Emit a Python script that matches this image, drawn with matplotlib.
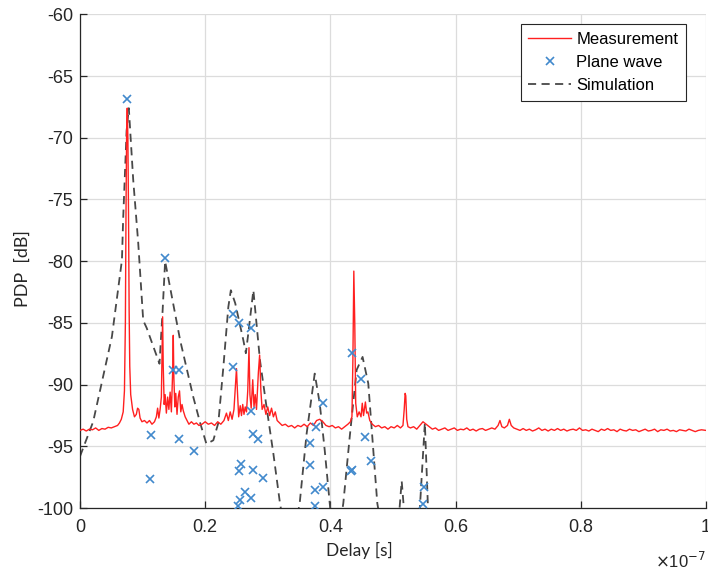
import numpy as np
import matplotlib
matplotlib.use('Agg')
import matplotlib.pyplot as plt

# delays in ns, levels in dB
meas_ns = [0.0, 0.5, 1.0, 1.5, 2.0, 2.5, 3.0, 3.5, 4.0, 4.5, 5.0, 5.5, 6.0,
           6.3, 6.6, 6.9, 7.1, 7.25, 7.35, 7.45, 7.55, 7.65, 7.75, 7.85, 7.95, 8.1, 8.4, 8.7,
           9.0, 9.2, 9.4, 9.6, 9.9, 10.3, 10.7, 11.1, 11.5, 11.9, 12.2, 12.4, 12.6, 12.8,
           13.0, 13.1, 13.2, 13.3, 13.45, 13.6, 13.8, 14.0, 14.2, 14.4, 14.6, 14.8, 14.9, 15.0,
           15.15, 15.3, 15.5, 15.7, 15.9, 16.1, 16.3, 16.5, 16.8, 17.1, 17.4, 17.8,
           18.2, 18.6, 19.0, 19.5, 20.0, 20.5, 21.0, 21.5, 22.0, 22.5, 23.0,
           23.4, 23.7, 24.0, 24.3, 24.6, 24.85, 25.0, 25.15, 25.35, 25.6, 25.8, 26.0, 26.2,
           26.4, 26.6, 26.8, 27.0, 27.15, 27.35, 27.6, 27.8, 28.0, 28.2, 28.5, 28.7, 28.9,
           29.1, 29.4, 29.7, 30.0, 30.3, 30.6, 30.9, 31.2, 31.5, 31.9, 32.3,
           32.8, 33.3, 33.8, 34.3, 34.8, 35.3, 35.8, 36.3, 36.8, 37.3, 37.8, 38.3, 38.8,
           39.3, 39.8, 40.3, 40.8, 41.3, 41.8, 42.3, 42.8, 43.2, 43.45, 43.6, 43.75, 43.9,
           44.05, 44.3, 44.6, 44.9, 45.1, 45.3, 45.6, 45.8, 46.0, 46.3, 46.7, 47.2, 47.7,
           48.2, 48.7, 49.2, 49.7, 50.2, 50.7, 51.2, 51.6, 51.8, 51.95, 52.05, 52.2, 52.4,
           52.8, 53.3, 53.8, 54.3, 54.8, 55.3, 55.8, 56.3, 56.8, 57.3, 57.8, 58.3, 58.8,
           59.3, 59.8, 60.3, 60.8, 61.3, 61.8, 62.3, 62.8, 63.3, 63.8, 64.3, 64.8, 65.3,
           65.8, 66.3, 66.8, 67.1, 67.4, 67.8, 68.3, 68.6, 68.9, 69.3, 69.8, 70.3, 70.8,
           71.3, 71.8, 72.3, 72.8, 73.3, 73.8, 74.3, 74.8, 75.3, 75.8, 76.3, 76.8, 77.3,
           77.8, 78.3, 78.8, 79.3, 79.8, 80.3, 80.8, 81.3, 81.8, 82.3, 82.8, 83.3, 83.8,
           84.3, 84.8, 85.3, 85.8, 86.3, 86.8, 87.3, 87.8, 88.3, 88.8, 89.3, 89.8, 90.3,
           90.8, 91.3, 91.8, 92.3, 92.8, 93.3, 93.8, 94.3, 94.8, 95.3, 95.8, 96.3, 96.8,
           97.3, 97.8, 98.3, 98.8, 99.3, 100.0]
meas_db = [-93.7, -93.6, -93.75, -93.6, -93.65, -93.5, -93.7, -93.55, -93.6, -93.45, -93.5, -93.4, -93.3,
           -93.1, -92.8, -92.2, -90.5, -85.0, -76.0, -69.5, -67.6, -70.0, -76.0, -84.0, -88.5, -90.8, -92.0, -92.6,
           -92.4, -91.9, -92.0, -92.7, -93.0, -92.9, -93.1, -92.9, -93.2, -93.0, -92.6, -91.9, -92.7, -92.0,
           -91.0, -88.0, -84.5, -88.5, -91.6, -90.8, -92.3, -91.0, -92.0, -90.6, -92.2, -89.0, -86.0, -89.5,
           -91.8, -90.7, -92.4, -91.0, -90.5, -92.2, -91.6, -92.1, -92.6, -92.9, -93.2, -93.0,
           -93.2, -93.1, -93.3, -93.2, -93.0, -93.2, -93.1, -93.3, -93.0, -93.2, -92.9,
           -92.3, -92.9, -92.2, -92.8, -92.0, -90.0, -88.7, -90.5, -92.6, -91.7, -92.5, -91.6, -92.4,
           -91.8, -92.2, -90.5, -87.0, -90.8, -91.9, -89.6, -91.8, -90.8, -92.0, -89.0, -87.6, -90.5,
           -92.0, -91.6, -92.4, -91.8, -92.5, -91.9, -92.6, -92.2, -92.9, -93.1, -93.3,
           -93.2, -93.4, -93.3, -93.5, -93.3, -93.4, -93.2, -93.4, -93.1, -93.3, -92.9, -92.8, -93.0,
           -93.3, -93.4, -93.3, -93.5, -93.4, -93.6, -93.4, -93.2, -93.0, -92.6, -88.0, -80.8, -85.0,
           -91.5, -92.6, -92.2, -92.6, -91.5, -92.5, -91.4, -92.3, -92.2, -92.9, -93.2, -93.4, -93.3,
           -93.5, -93.4, -93.6, -93.4, -93.5, -93.3, -93.5, -93.3, -92.0, -90.7, -90.9, -92.8, -93.4,
           -93.5, -93.4, -93.6, -93.3, -93.0, -93.2, -93.4, -93.6, -93.5, -93.7, -93.6, -93.5, -93.7,
           -93.6, -93.5, -93.7, -93.6, -93.65, -93.5, -93.7, -93.6, -93.75, -93.6, -93.55, -93.7, -93.6,
           -93.5, -93.6, -93.3, -92.9, -93.4, -93.5, -93.3, -92.8, -93.3, -93.5, -93.6, -93.7, -93.55,
           -93.7, -93.6, -93.75, -93.65, -93.5, -93.7, -93.6, -93.75, -93.6, -93.7, -93.55, -93.7, -93.6,
           -93.75, -93.65, -93.6, -93.7, -93.5, -93.7, -93.65, -93.75, -93.6, -93.7, -93.8, -93.6, -93.7,
           -93.55, -93.7, -93.65, -93.8, -93.6, -93.7, -93.75, -93.6, -93.7, -93.65, -93.8, -93.7, -93.6,
           -93.75, -93.7, -93.6, -93.8, -93.65, -93.7, -93.6, -93.75, -93.7, -93.8, -93.65, -93.7, -93.75,
           -93.6, -93.7, -93.8, -93.7, -93.65, -93.7]

pw_ns = [7.51, 13.58, 14.8, 15.86, 11.3, 15.87, 18.16, 11.18,
         24.4, 25.45, 27.26, 24.4, 27.26, 27.58, 28.49, 25.67, 25.45, 27.68, 29.18,
         26.36, 25.56, 27.26, 25.3,
         36.8, 36.8, 37.7, 38.77, 37.5, 38.87, 37.5,
         43.4, 44.89, 45.53, 46.43, 43.24, 43.5, 54.95, 54.73]
pw_db = [-66.9, -79.7, -88.8, -88.8, -94.1, -94.4, -95.4, -97.65,
         -84.24, -84.97, -85.37, -88.6, -92.15, -94.03, -94.36, -96.46, -96.98, -96.92, -97.55,
         -98.68, -99.3, -99.2, -99.8,
         -94.7, -96.5, -93.4, -91.52, -98.5, -98.3, -99.8,
         -87.47, -89.55, -94.2, -96.17, -96.98, -96.9, -98.3, -99.7]

sim_ns = [0.0, 2.1, 5.1, 6.7, 6.9, 7.45, 7.8, 8.5, 9.3, 10.1, 10.65, 12.7, 13.2, 13.6,
          16.0, 18.1, 19.2, 20.2, 21.3, 22.1, 22.9, 23.7, 24.1, 24.8, 26.1, 26.5, 26.9,
          27.7, 28.75, 29.8, 30.9, 31.95, 33.5, 35.1, 36.2, 37.5, 38.3, 39.1, 39.9, 40.8,
          42.07, 43.1, 44.2, 45.15, 46.06, 46.86, 47.5, 49.0, 50.9, 51.4, 51.9, 53.0,
          54.3, 55.1, 55.6, 57.0, 100.0]
sim_db = [-95.8, -93.0, -86.1, -79.9, -76.5, -69.4, -67.6, -73.4, -78.5, -84.8, -85.4, -88.3, -84.0, -80.0,
          -86.4, -91.0, -93.1, -94.8, -94.5, -93.1, -88.6, -83.7, -82.35, -83.4, -86.4, -87.45, -85.8,
          -82.35, -88.0, -91.8, -95.6, -99.6, -104.0, -99.6, -94.0, -89.1, -91.5, -95.3, -99.6, -104.0,
          -99.6, -94.2, -88.8, -87.75, -89.9, -95.3, -99.6, -104.0, -101.0, -97.8, -101.0, -104.0,
          -100.0, -93.1, -100.0, -110.0, -120.0]

plt.rcParams['font.family'] = ['Liberation Sans', 'DejaVu Sans']
plt.rcParams['axes.unicode_minus'] = False

fig = plt.figure(figsize=(7.08, 5.71), dpi=100)
ax = fig.add_axes([0.113, 0.110, 0.884, 0.865])

ax.plot(np.array(meas_ns) / 100, meas_db, color='#ff2020', lw=1.0, label='Measurement', zorder=3)
ax.plot(np.array(pw_ns) / 100, pw_db, ls='none', marker='x', ms=6, mew=1.2,
        color='#4189cc', label='Plane wave', zorder=4)
ax.plot(np.array(sim_ns) / 100, sim_db, color='#484848', lw=1.3, ls=(0, (4.5, 3)),
        label='Simulation', zorder=2)

ax.set_xlim(0, 1)
ax.set_ylim(-100, -60)
ax.set_xticks([0, 0.2, 0.4, 0.6, 0.8, 1])
ax.set_xticklabels(['0', '0.2', '0.4', '0.6', '0.8', '1'])
ax.set_yticks(np.arange(-100, -59, 5))
ax.set_yticklabels([str(v) for v in range(-100, -59, 5)])

ax.grid(True, color='#dcdcdc', lw=0.9)
ax.set_axisbelow(True)
for s in ['top', 'right']:
    ax.spines[s].set_visible(False)
for s in ['left', 'bottom']:
    ax.spines[s].set_color('#262626')
    ax.spines[s].set_linewidth(0.9)
ax.tick_params(axis='both', direction='in', length=5, width=0.9, color='#262626',
               labelcolor='#262626', labelsize=13)
ax.tick_params(axis='x', pad=8)
ax.tick_params(axis='y', pad=5)

ax.set_xlabel('Delay [s]', family=['Lato', 'DejaVu Sans'], fontsize=12.5, color='#262626')
ax.xaxis.set_label_coords(0.447, -0.068)
ax.set_ylabel('PDP  [dB]', family=['Lato', 'DejaVu Sans'], fontsize=13, color='#262626')
ax.yaxis.set_label_coords(-0.078, 0.486)

ax.text(0.918, -0.106, r'$\times$10$^{-7}$', transform=ax.transAxes, fontsize=12,
        color='#262626', ha='left', va='center')

leg = ax.legend(loc='upper right', bbox_to_anchor=(0.968, 0.980), fontsize=12,
                fancybox=False, edgecolor='#262626', framealpha=1,
                handlelength=2.6, handletextpad=0.3, borderpad=0.45,
                labelspacing=0.5, borderaxespad=0)
leg.get_frame().set_linewidth(0.8)

plt.savefig('out.png', dpi=100)
